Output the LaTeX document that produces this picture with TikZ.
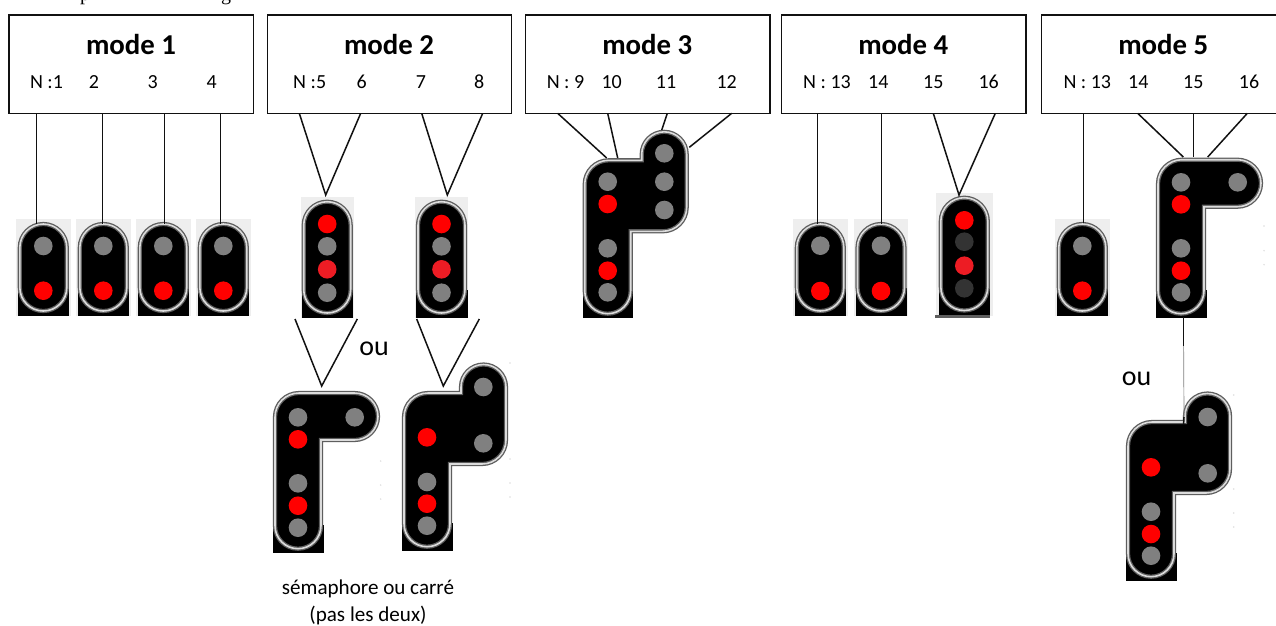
\documentclass[tikz,border=0pt]{standalone}
\usepackage{fontspec}
\setmainfont{Carlito}
\newfontfamily\serifcut{Liberation Serif}
\definecolor{lampred}{HTML}{FF0000}
\definecolor{lampredb}{HTML}{ED1C24}
\definecolor{lampgrey}{HTML}{808080}
\definecolor{lampdark}{HTML}{333333}
\definecolor{rimdark}{HTML}{5E5E5E}
\definecolor{rimlight}{HTML}{DCDCDC}
\definecolor{sigbg}{HTML}{EEEEEE}
\definecolor{speck}{HTML}{DDDDDD}
\definecolor{ink}{HTML}{111111}
\tikzset{
  modebox/.style={draw=ink,line width=1.4pt,fill=white,minimum width=244.3pt,minimum height=98.3pt,inner sep=0pt},
  modetitle/.style={anchor=base,inner sep=0pt,font=\fontsize{28.8}{30}\selectfont\bfseries},
  chan/.style={anchor=base,inner sep=0pt,font=\fontsize{20}{24}\selectfont},
  wordou/.style={anchor=base,inner sep=0pt,font=\fontsize{28}{30}\selectfont},
  note/.style={anchor=base,inner sep=0pt,font=\fontsize{21.1}{24}\selectfont},
  wire/.style={draw=ink,line width=1.5pt,line join=miter},
  thinwire/.style={draw=gray,line width=0.7pt},
  rimo/.style={draw=rimdark,line width=4.2pt},
  rimi/.style={draw=rimlight,line width=1.6pt},
}
\newcommand\lampat[3]{\fill[#3] (#1,#2) circle[radius=9.3pt];}
\newcommand\speckat[2]{\fill[speck] (#1,#2) circle[radius=0.8pt];}
% tall signal: name, centre x, background top, black bottom, rim bottom, half background width
\newcommand\tallsig[6]{%
  \coordinate (#1) at (#2,#3);
  \begin{scope}[shift={(#2,0)}]
    \fill[sigbg] (-#6,#3) rectangle (#6,#4);
    \fill[black] (-25.5,#5-25) rectangle (26,#4);
    \def\rimp{(-23.5,#3+28.5) arc[start angle=180,end angle=0,radius=23.5pt] -- (23.5,#5-25.5) arc[start angle=0,end angle=-180,radius=23.5pt] -- cycle}
    \fill[black] \rimp;
    \draw[rimo] \rimp;
    \draw[rimi] \rimp;
  \end{scope}}
% semaphore: name, lamp x, top, black bottom offset
\newcommand\semasig[4]{%
  \coordinate (#1) at (#2,#3);
  \begin{scope}[shift={(#2,#3)}]
    \fill[black] (-25,#4-28) rectangle (25.5,#4);
    \def\rimp{(-23,26) arc[start angle=180,end angle=90,radius=24pt] -- (56.5,2) arc[start angle=90,end angle=-90,radius=23.5pt] -- (23,49) -- (23,#4-27) arc[start angle=0,end angle=-180,radius=23pt] -- cycle}
    \fill[black] \rimp;
    \draw[rimo] \rimp;
    \draw[rimi] \rimp;
  \end{scope}}
% square signal: name, lamp x, body top, black bottom offset
\newcommand\carresig[4]{%
  \coordinate (#1) at (#2,#3);
  \begin{scope}[shift={(#2,#3)}]
    \fill[black] (-25,#4-28) rectangle (25.5,#4);
    \def\rimp{(-23,26) arc[start angle=180,end angle=90,radius=24pt] -- (34,2) -- (34,-4) arc[start angle=180,end angle=0,radius=22.5pt] -- (79,49) arc[start angle=0,end angle=-90,radius=24pt] -- (23,73) -- (23,#4-27) arc[start angle=0,end angle=-180,radius=23pt] -- cycle}
    \fill[black] \rimp;
    \draw[rimo] \rimp;
    \draw[rimi] \rimp;
  \end{scope}}
\begin{document}
\begin{tikzpicture}[x=1pt,y=-1pt]
\useasboundingbox (0,0) rectangle (1276,625);
\begin{scope}
\clip (0,0) rectangle (1276,625);
\fill[white] (0,0) rectangle (1276,625);

% fragments of the cropped heading
\node[anchor=base,inner sep=0pt,font=\serifcut\fontsize{20}{24}\selectfont] (headp) at (85,0) {p};
\node[anchor=base,inner sep=0pt,font=\serifcut\fontsize{20}{24}\selectfont] (headg) at (226,0) {g};

% mode boxes
\node[modebox] (m1) at (131.2,64.2) {};
\node[modebox] (m2) at (389.5,64.2) {};
\node[modebox] (m3) at (647.8,64.2) {};
\node[modebox] (m4) at (903.8,64.2) {};
\node[modebox] (m5) at (1163.8,64.2) {};

\node[modetitle] (t1) at (131,54.2) {mode 1};
\node[modetitle] (t2) at (389,54.2) {mode 2};
\node[modetitle] (t3) at (647.3,54.2) {mode 3};
\node[modetitle] (t4) at (903.3,54.2) {mode 4};
\node[modetitle] (t5) at (1163.3,54.2) {mode 5};

\node[chan] (l11) at (46.5,88.3) {N :1};
\node[chan] (l12) at (94,88.3) {2};
\node[chan] (l13) at (152.7,88.3) {3};
\node[chan] (l14) at (211.7,88.3) {4};
\node[chan] (l21) at (309.7,88.3) {N :5};
\node[chan] (l22) at (361.7,88.3) {6};
\node[chan] (l23) at (421,88.3) {7};
\node[chan] (l24) at (479.3,88.3) {8};
\node[chan] (l31) at (565.5,88.3) {N : 9};
\node[chan] (l32) at (611.7,88.3) {10};
\node[chan] (l33) at (666,88.3) {11};
\node[chan] (l34) at (726.7,88.3) {12};
\node[chan] (l41) at (827,88.3) {N : 13};
\node[chan] (l42) at (878.3,88.3) {14};
\node[chan] (l43) at (933.3,88.3) {15};
\node[chan] (l44) at (988.7,88.3) {16};
\node[chan] (l51) at (1087.3,88.3) {N : 13};
\node[chan] (l52) at (1138.3,88.3) {14};
\node[chan] (l53) at (1193.3,88.3) {15};
\node[chan] (l54) at (1249,88.3) {16};

% connector ends
\foreach \n/\x in {a/36.7,b/102.7,c/164.7,d/220.7,e/299.3,f/360.7,g/421.7,h/482.7,i/557.7,j/607.7,k/667.3,l/731.7,m/817.3,n/881.5,o/933.3,p/995.3,q/1083.3,r/1137.7,s/1193.7,t/1247.3}
  \coordinate (b\n) at (\x,113.3);
\coordinate (ea) at (36.7,224);
\coordinate (eb) at (102.7,224);
\coordinate (ec) at (164.7,224);
\coordinate (ed) at (220.7,224);
\coordinate (v21) at (325.7,195);
\coordinate (v22) at (447.3,195);
\coordinate (e3a) at (606.7,158);
\coordinate (e3b) at (617.7,158);
\coordinate (e3c) at (661.7,130);
\coordinate (e3d) at (689.3,147.3);
\coordinate (em) at (817.3,224);
\coordinate (en) at (881.5,224);
\coordinate (v4) at (959,195);
\coordinate (eq) at (1083.3,223);
\coordinate (e5a) at (1183.3,157);
\coordinate (e5b) at (1193.7,157);
\coordinate (e5c) at (1207.7,157);
\coordinate (d5a) at (1183.6,317);
\coordinate (d5b) at (1183.6,346);
\coordinate (d5c) at (1184,417);
\coordinate (d5d) at (1183.6,424);
\coordinate (u21) at (295,319);
\coordinate (u22) at (357.3,319);
\coordinate (u2v) at (321.7,386);
\coordinate (u31) at (416.7,319);
\coordinate (u32) at (479.3,319);
\coordinate (u3v) at (443.3,386);

% signals behind the wires that touch them
% mode 1
\tallsig{s1}{43.3}{219}{316}{313}{27.3}
\tallsig{s2}{103.3}{219}{316}{313}{27.3}
\tallsig{s3}{163.3}{219}{316}{313}{27.3}
\tallsig{s4}{223.3}{219}{316}{313}{27.3}
\foreach \x in {43.3,103.3,163.3,223.3} {\lampat{\x}{246}{lampgrey}\lampat{\x}{290.7}{lampred}}

% mode 2
\tallsig{s5}{327.2}{196.7}{317.7}{315}{26.7}
\tallsig{s6}{441.5}{196.7}{317.7}{315}{26.7}
\foreach \x in {327.2,441.5} {\lampat{\x}{224}{lampred}\lampat{\x}{246.3}{lampgrey}\lampat{\x}{269.3}{lampredb}\lampat{\x}{292.7}{lampgrey}}
\semasig{s7}{298}{391}{161.7}
\lampat{298}{417.3}{lampgrey}\lampat{354.7}{417.3}{lampgrey}\lampat{298}{439.3}{lampred}\lampat{298}{483.3}{lampgrey}\lampat{298}{505.7}{lampred}\lampat{298}{527.7}{lampgrey}
\carresig{s8}{427}{391}{159.7}
\lampat{483.3}{387}{lampgrey}\lampat{483.3}{443.3}{lampgrey}\lampat{427}{437.3}{lampred}\lampat{427}{482}{lampgrey}\lampat{427}{503.7}{lampred}\lampat{427}{525.7}{lampgrey}

% mode 3
\carresig{s9}{607.7}{158.3}{159.4}
\lampat{607.7}{181.7}{lampgrey}\lampat{607.7}{204}{lampred}\lampat{607.7}{248.3}{lampgrey}\lampat{607.7}{270.7}{lampred}\lampat{607.7}{292.3}{lampgrey}
\lampat{664.3}{153.3}{lampgrey}\lampat{664.3}{181.7}{lampgrey}\lampat{664.3}{210}{lampgrey}

% mode 4
\tallsig{s10}{820.3}{219}{316}{313}{27.3}
\tallsig{s11}{881}{219}{316}{313}{27.3}
\foreach \x in {820.3,881} {\lampat{\x}{245.7}{lampgrey}\lampat{\x}{291}{lampred}}
\tallsig{s12}{964.3}{192.7}{315.5}{312.5}{28.5}
\fill[rimdark] (935,315) rectangle (990,318);
\lampat{964.3}{220.3}{lampred}\lampat{964.3}{241.7}{lampdark}\lampat{964.3}{265.7}{lampredb}\lampat{964.3}{288.3}{lampdark}

% mode 5
\tallsig{s13}{1082.3}{219}{316}{313}{27.3}
\lampat{1082.3}{246}{lampgrey}\lampat{1082.3}{290.7}{lampred}
\semasig{s14}{1181}{157.7}{160}
\lampat{1181}{182.3}{lampgrey}\lampat{1237.7}{182.3}{lampgrey}\lampat{1181}{204.3}{lampred}\lampat{1181}{248.3}{lampgrey}\lampat{1181}{270.7}{lampred}\lampat{1181}{292.3}{lampgrey}
\carresig{s15}{1151}{420}{160.7}
\lampat{1207.7}{417}{lampgrey}\lampat{1207.7}{473.3}{lampgrey}\lampat{1151}{467.3}{lampred}\lampat{1151}{511.7}{lampgrey}\lampat{1151}{534}{lampred}\lampat{1151}{555.7}{lampgrey}

% connectors
\draw[wire] (ba) -- (ea);
\draw[wire] (bb) -- (eb);
\draw[wire] (bc) -- (ec);
\draw[wire] (bd) -- (ed);
\draw[wire] (be) -- (v21) -- (bf);
\draw[wire] (bg) -- (v22) -- (bh);
\draw[wire] (bi) -- (e3a);
\draw[wire] (bj) -- (e3b);
\draw[wire] (bk) -- (e3c);
\draw[wire] (bl) -- (e3d);
\draw[wire] (bm) -- (em);
\draw[wire] (bn) -- (en);
\draw[wire] (bo) -- (v4) -- (bp);
\draw[wire] (bq) -- (eq);
\draw[wire] (br) -- (e5a);
\draw[wire] (bs) -- (e5b);
\draw[wire] (bt) -- (e5c);
\draw[wire] (u21) -- (u2v) -- (u22);
\draw[wire] (u31) -- (u3v) -- (u32);
\draw[wire] (d5a) -- (d5b);
\draw[thinwire] (d5b) -- (d5c);
\draw[wire] (d5c) -- (d5d);

% specks left by the cut-outs
\speckat{380.7}{461}\speckat{380.7}{485}\speckat{380.7}{499}
\speckat{510}{363}\speckat{510}{459}\speckat{510}{483}\speckat{510}{497}
\speckat{1264}{226}\speckat{1264}{250.7}\speckat{1264}{264.7}
\speckat{1233.7}{395}\speckat{1233.7}{489}\speckat{1233.7}{513}\speckat{1233.7}{527}

% words
\node[wordou] (ou1) at (374,355) {ou};
\node[wordou] (ou2) at (1136.7,385) {ou};
\node[note] (n1) at (368,594) {sémaphore ou carré};
\node[note] (n2) at (368,621.7) {(pas les deux)};
\end{scope}
\end{tikzpicture}
\end{document}
